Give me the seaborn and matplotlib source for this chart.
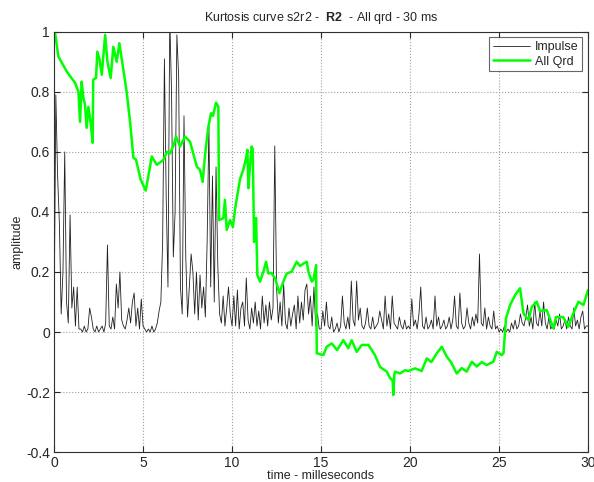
import numpy as np
import pandas as pd
import matplotlib
matplotlib.use("Agg")
import matplotlib.pyplot as plt
import seaborn as sns

# impulse amplitude, one value every 0.1 ms from 0 to 30 ms
impulse_step = 0.1
impulse_vals = [
    0.02, 0.79, 0.52, 0.36, 0.06, 0.20, 0.60, 0.10, 0.03, 0.39,
    0.08, 0.15, 0.02, 0.15, 0.01, 0.01, 0.00, 0.02, 0.00, 0.01,
    0.08, 0.05, 0.01, 0.00, 0.02, 0.00, 0.01, 0.02, 0.00, 0.03,
    0.29, 0.02, 0.01, 0.05, 0.01, 0.16, 0.08, 0.20, 0.04, 0.02,
    0.01, 0.04, 0.08, 0.03, 0.10, 0.13, 0.02, 0.08, 0.01, 0.11,
    0.02, 0.01, 0.00, 0.01, 0.00, 0.02, 0.00, 0.01, 0.03, 0.07,
    0.10, 0.30, 0.91, 0.45, 0.15, 1.05, 0.80, 0.25, 0.40, 0.99,
    0.85, 0.15, 0.06, 0.72, 0.25, 0.05, 0.15, 0.26, 0.20, 0.06,
    0.20, 0.04, 0.19, 0.08, 0.15, 0.05, 0.30, 0.69, 0.15, 0.52,
    0.10, 0.55, 0.22, 0.06, 0.03, 0.12, 0.02, 0.08, 0.15, 0.06,
    0.02, 0.12, 0.02, 0.14, 0.01, 0.08, 0.10, 0.02, 0.18, 0.04,
    0.01, 0.08, 0.03, 0.10, 0.02, 0.07, 0.01, 0.12, 0.03, 0.09,
    0.02, 0.10, 0.04, 0.08, 0.62, 0.15, 0.03, 0.10, 0.02, 0.16,
    0.03, 0.01, 0.08, 0.02, 0.06, 0.09, 0.01, 0.12, 0.03, 0.10,
    0.04, 0.14, 0.16, 0.06, 0.12, 0.02, 0.15, 0.02, 0.06, 0.01,
    0.01, 0.07, 0.02, 0.10, 0.02, 0.01, 0.05, 0.00, 0.01, 0.03,
    0.00, 0.02, 0.12, 0.03, 0.01, 0.05, 0.01, 0.17, 0.04, 0.02,
    0.17, 0.04, 0.08, 0.02, 0.01, 0.03, 0.08, 0.02, 0.01, 0.05,
    0.01, 0.02, 0.03, 0.07, 0.04, 0.01, 0.12, 0.02, 0.06, 0.01,
    0.12, 0.03, 0.02, 0.01, 0.05, 0.02, 0.01, 0.04, 0.01, 0.02,
    0.01, 0.11, 0.02, 0.04, 0.01, 0.06, 0.15, 0.02, 0.01, 0.05,
    0.01, 0.02, 0.04, 0.01, 0.12, 0.02, 0.05, 0.01, 0.02, 0.04,
    0.01, 0.02, 0.05, 0.01, 0.04, 0.12, 0.02, 0.01, 0.13, 0.03,
    0.01, 0.02, 0.08, 0.03, 0.01, 0.05, 0.02, 0.06, 0.03, 0.26,
    0.03, 0.02, 0.08, 0.01, 0.05, 0.02, 0.01, 0.07, 0.01, 0.02,
    0.00, 0.01, 0.00, 0.02, 0.00, 0.01, 0.00, 0.03, 0.01, 0.04,
    0.01, 0.02, 0.06, 0.03, 0.02, 0.05, 0.09, 0.02, 0.05, 0.01,
    0.10, 0.03, 0.02, 0.07, 0.02, 0.10, 0.03, 0.01, 0.05, 0.01,
    0.02, 0.01, 0.04, 0.02, 0.06, 0.01, 0.02, 0.04, 0.01, 0.05,
    0.02, 0.01, 0.08, 0.02, 0.04, 0.01, 0.05, 0.07, 0.01, 0.02,
    0.02,
]

# all qrd kurtosis curve, read at turning points
qrd_t = [
    0.05, 0.24, 0.71, 1.18, 1.37, 1.46, 1.55, 1.65, 1.74, 1.83, 1.93, 2.05,
    2.17, 2.2, 2.36, 2.43, 2.55, 2.68, 2.87, 3.0, 3.18, 3.33, 3.52, 3.67,
    3.8, 4.08, 4.27, 4.46, 4.6, 4.87, 5.0, 5.15, 5.3, 5.49, 5.77, 6.14,
    6.33, 6.52, 6.7, 6.85, 7.08, 7.36, 7.64, 8.02, 8.2, 8.35, 8.5, 8.67,
    8.82, 8.93, 9.1, 9.23, 9.27, 9.51, 9.6, 9.7, 9.89, 10.05, 10.17, 10.45,
    10.63, 10.79, 10.86, 10.92, 11.0, 11.1, 11.16, 11.24, 11.35, 11.42, 11.57, 11.76,
    11.91, 12.04, 12.2, 12.42, 12.66, 12.88, 13.07, 13.35, 13.63, 13.82, 14.04, 14.2,
    14.29, 14.48, 14.57, 14.72, 14.76, 15.13, 15.32, 15.6, 15.9, 16.25, 16.53, 16.72,
    17.0, 17.29, 17.66, 18.03, 18.31, 18.69, 18.88, 19.02, 19.06, 19.12, 19.16, 19.44,
    19.72, 19.9, 20.28, 20.65, 20.94, 21.2, 21.5, 21.78, 22.06, 22.3, 22.62, 22.9,
    23.18, 23.47, 23.75, 24.03, 24.3, 24.68, 24.87, 25.15, 25.25, 25.39, 25.62, 25.9,
    26.18, 26.37, 26.65, 26.84, 27.12, 27.3, 27.68, 28.05, 28.2, 28.6, 28.89, 29.17,
    29.46, 29.74, 30.0,
]
qrd_v = [
    1.0, 0.918, 0.868, 0.83, 0.80, 0.70, 0.834, 0.78, 0.757, 0.68, 0.75, 0.70,
    0.63, 0.84, 0.847, 0.934, 0.91, 0.857, 0.99, 0.90, 0.846, 0.95, 0.90, 0.962,
    0.91, 0.80, 0.70, 0.58, 0.575, 0.507, 0.49, 0.471, 0.52, 0.585, 0.557, 0.573,
    0.60, 0.595, 0.62, 0.651, 0.618, 0.651, 0.634, 0.551, 0.54, 0.50, 0.60, 0.684,
    0.729, 0.72, 0.764, 0.751, 0.373, 0.379, 0.44, 0.34, 0.373, 0.35, 0.41, 0.51,
    0.54, 0.58, 0.607, 0.479, 0.55, 0.618, 0.61, 0.30, 0.38, 0.19, 0.168, 0.201,
    0.234, 0.195, 0.197, 0.179, 0.129, 0.168, 0.195, 0.201, 0.234, 0.22, 0.229, 0.234,
    0.20, 0.168, 0.173, 0.223, -0.071, -0.077, -0.049, -0.038, -0.06, -0.027, -0.054, -0.027,
    -0.066, -0.043, -0.043, -0.077, -0.116, -0.132, -0.154, -0.16, -0.21, -0.14, -0.132, -0.138,
    -0.127, -0.13, -0.121, -0.13, -0.088, -0.10, -0.071, -0.049, -0.082, -0.10, -0.138, -0.12,
    -0.132, -0.099, -0.115, -0.10, -0.11, -0.099, -0.066, -0.077, -0.07, 0.046, 0.09, 0.123,
    0.146, 0.062, 0.04, 0.084, 0.101, 0.07, 0.073, 0.012, 0.05, 0.05, 0.018, 0.062,
    0.101, 0.09, 0.14,
]

x_ticks = [0, 5, 10, 15, 20, 25, 30]
y_ticks = [-0.4, -0.2, 0, 0.2, 0.4, 0.6, 0.8, 1]
y_ticklabels = ["-0.4", "-0.2", "0", "0.2", "0.4", "0.6", "0.8", "1"]

imp = pd.DataFrame({"t": np.arange(len(impulse_vals)) * impulse_step, "amp": impulse_vals})
qrd = pd.DataFrame({"t": qrd_t, "amp": qrd_v})

sns.set_style("ticks")
plt.rcParams["font.family"] = ["Liberation Sans", "DejaVu Sans"]
plt.rcParams["mathtext.fontset"] = "custom"
plt.rcParams["mathtext.bf"] = "Liberation Sans:bold"
plt.rcParams["mathtext.rm"] = "Liberation Sans"

fig = plt.figure(figsize=(5.94, 4.82), dpi=100)
ax = fig.add_axes([0.091, 0.062, 0.899, 0.872])

sns.lineplot(data=imp, x="t", y="amp", ax=ax, color="#202020", linewidth=0.6,
             sort=False, estimator=None, label="Impulse")
sns.lineplot(data=qrd, x="t", y="amp", ax=ax, color="#00ff00", linewidth=1.8,
             sort=False, estimator=None, label="All Qrd")

ax.set_xlim(0, 30)
ax.set_ylim(-0.4, 1)
ax.set_xticks(x_ticks)
ax.set_xticklabels([str(v) for v in x_ticks])
ax.set_yticks(y_ticks)
ax.set_yticklabels(y_ticklabels)
ax.tick_params(direction="in", top=True, right=True, length=4, labelsize=10, pad=3)
ax.grid(True, linestyle=":", color="#a0a0a0", linewidth=0.8)
for s in ax.spines.values():
    s.set_linewidth(0.8)
    s.set_color("#303030")

ax.set_xlabel("time - milleseconds", fontsize=9, labelpad=0)
ax.set_ylabel("amplitude", fontsize=9, labelpad=2)
ax.set_title(r"Kurtosis curve s2r2 -  $\mathbf{R2}$  - All qrd - 30 ms", fontsize=9, pad=8)

leg = ax.legend(loc="upper right", fontsize=9, frameon=True, fancybox=False,
                handlelength=3.0, borderpad=0.3, labelspacing=0.2,
                handletextpad=0.4, borderaxespad=0.45)
leg.get_frame().set_edgecolor("#404040")
leg.get_frame().set_linewidth(0.8)

fig.savefig("out.png", dpi=100)
